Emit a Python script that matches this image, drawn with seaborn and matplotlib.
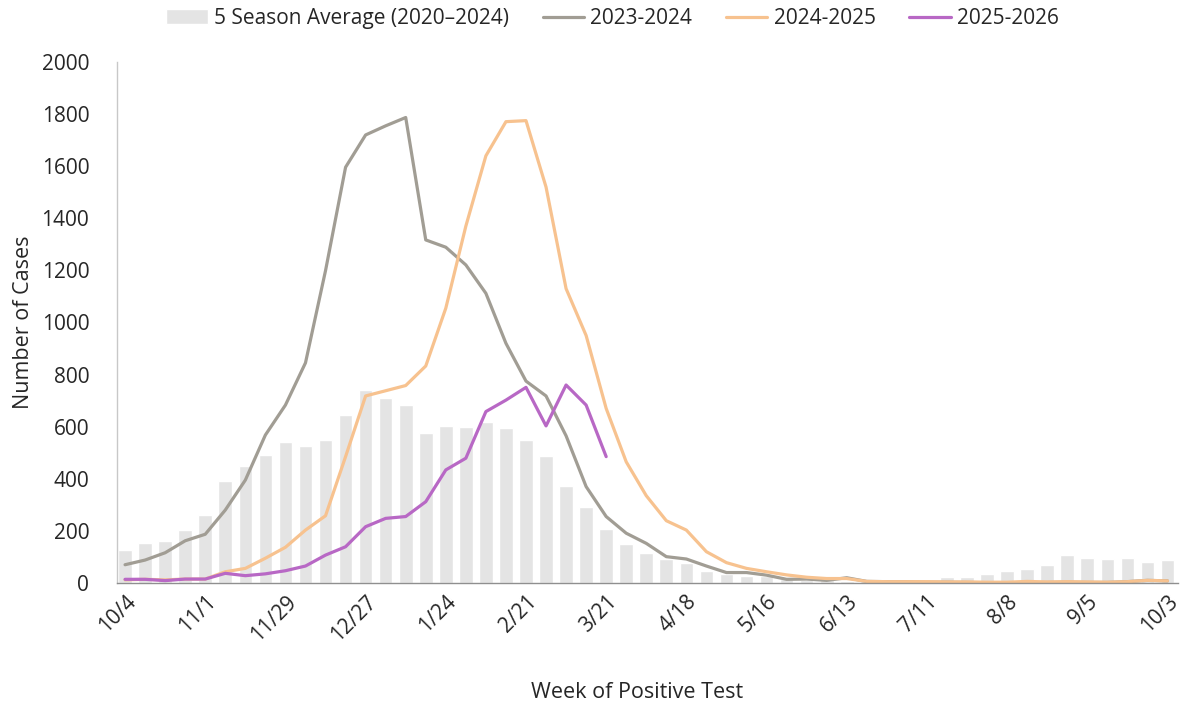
import matplotlib
matplotlib.use("Agg")
import matplotlib.pyplot as plt
import seaborn as sns
import pandas as pd
import numpy as np

# ---- data ----
tick_labels = ["10/4", "11/1", "11/29", "12/27", "1/24", "2/21", "3/21",
               "4/18", "5/16", "6/13", "7/11", "8/8", "9/5", "10/3"]

avg_5season = [127, 155, 162, 205, 262, 390, 450, 492, 540, 525, 548, 645, 740,
               710, 682, 575, 602, 600, 617, 595, 550, 487, 373, 293, 208, 150,
               115, 92, 77, 46, 35, 27, 25, 15, 12, 10, 8, 6, 5, 6, 12, 21, 22,
               36, 47, 52, 69, 109, 96, 92, 95, 79, 90]

s2023_2024 = [70, 88, 116, 162, 187, 280, 395, 568, 683, 845, 1199, 1596, 1720,
              1755, 1787, 1317, 1289, 1221, 1112, 920, 775, 718, 565, 370, 255,
              191, 152, 101, 92, 65, 40, 40, 30, 14, 15, 10, 20, 6, 5, 5, 3, 3,
              2, 1, 1, 1, 2, 3, 2, 2, 5, 10, 8]

s2024_2025 = [12, 14, 12, 15, 15, 43, 56, 95, 137, 203, 258, 485, 718, 738, 758,
              833, 1055, 1370, 1640, 1771, 1775, 1520, 1130, 950, 670, 465, 335,
              239, 203, 120, 78, 56, 43, 31, 22, 17, 17, 6, 5, 5, 5, 4, 4, 3, 3,
              6, 4, 5, 4, 3, 5, 10, 8]

s2025_2026 = [14, 14, 9, 15, 15, 37, 28, 35, 47, 65, 107, 139, 216, 248, 255,
              312, 434, 479, 658, 702, 751, 603, 760, 683, 485]

# ---- style ----
sns.set_theme(style="white")
plt.rcParams["font.family"] = ["Open Sans", "DejaVu Sans"]

fig = plt.figure(figsize=(11.87, 7.08), dpi=100)
ax = fig.add_axes([0.0986, 0.1766, 0.8934, 0.7358])

weeks = np.arange(len(avg_5season))
df_bar = pd.DataFrame({"week": weeks, "cases": avg_5season})

sns.barplot(data=df_bar, x="week", y="cases", color="#E4E4E4", saturation=1,
            width=0.68, ax=ax, label="5 Season Average (2020\u20132024)")

series = [("2023-2024", s2023_2024, "#A19D94"),
          ("2024-2025", s2024_2025, "#F7C28F"),
          ("2025-2026", s2025_2026, "#B868C5")]
for name, vals, col in series:
    d = pd.DataFrame({"week": np.arange(len(vals)), "cases": vals})
    sns.lineplot(data=d, x="week", y="cases", color=col, linewidth=2.3,
                 ax=ax, label=name)

ax.set_xlim(-0.4, 52.5)
ax.set_ylim(0, 2000)
ax.set_yticks(range(0, 2001, 200))
ax.set_xticks(weeks[::4])
ax.set_xticklabels(tick_labels, rotation=45, ha="right",
                   rotation_mode="anchor")
ax.tick_params(axis="both", length=0, labelsize=15, colors="#262626")
ax.tick_params(axis="x", pad=6)
ax.tick_params(axis="y", pad=20)

for s in ["top", "right"]:
    ax.spines[s].set_visible(False)
ax.spines["left"].set_color("#C8C8C8")
ax.spines["bottom"].set_color("#8F8F8F")
ax.spines["left"].set_linewidth(1.0)
ax.spines["bottom"].set_linewidth(1.0)

ax.set_xlabel("Week of Positive Test", fontsize=15.5, color="#262626")
ax.xaxis.set_label_coords(0.49, -0.19)
ax.set_ylabel("Number of Cases", fontsize=15.5, color="#262626")
ax.yaxis.set_label_coords(-0.078, 0.5)

handles, labels = ax.get_legend_handles_labels()
if ax.legend_:
    ax.legend_.remove()
order = [labels.index(l) for l in ["5 Season Average (2020\u20132024)",
                                    "2023-2024", "2024-2025", "2025-2026"]]
fig.legend([handles[i] for i in order], [labels[i] for i in order],
           loc="center", bbox_to_anchor=(0.516, 0.974),
           ncol=4, frameon=False, fontsize=15, handlelength=2.0,
           handletextpad=0.3, columnspacing=1.6, labelcolor="#262626")

fig.savefig("out.png", dpi=100)
